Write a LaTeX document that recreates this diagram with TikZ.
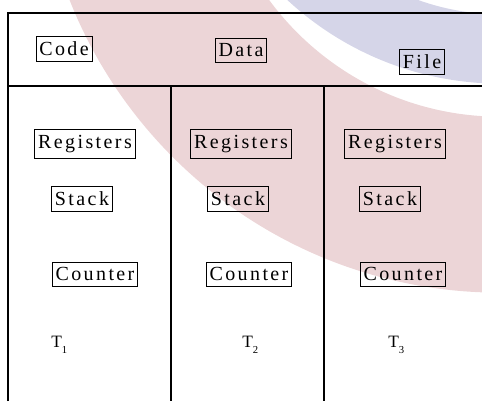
\documentclass[tikz,border=0pt]{standalone}
\usepackage{fontspec}
\setmainfont{Liberation Serif}
\newfontfamily\spacedfont[LetterSpace=12]{Liberation Serif}
\newcommand\tsub[1]{\raisebox{-5pt}{\fontsize{8}{9}\selectfont #1}}

\definecolor{markpink}{RGB}{236,213,215}
\definecolor{markblue}{RGB}{213,213,232}

\begin{document}
\begin{tikzpicture}[
  x=0.75pt, y=-0.75pt,
  frame/.style={line width=0.9pt},
  part/.style={draw, line width=0.6pt, inner xsep=2.5pt, inner ysep=4pt,
    font=\fontsize{15}{18}\spacedfont},
  tname/.style={anchor=base west, inner sep=0pt, font=\fontsize{13}{15}\selectfont}
]
\useasboundingbox (0,0) rectangle (482,401);

% --- Background mark ---
\begin{scope}
  \clip (0,0) rectangle (482,401);
  \fill[markpink, even odd rule] (500,-170) circle[radius=347pt] (500,-170) circle[radius=215pt];
  \fill[markblue, even odd rule] (501,-231) circle[radius=236pt] (501,-231) circle[radius=184pt];
\end{scope}

% --- Frame ---
\draw[frame] (8,401) -- (8,13) -- (482,13);
\draw[frame] (8,86) -- (482,86);
\draw[frame] (171,86) -- (171,401);
\draw[frame] (324,86) -- (324,401);

% --- Shared parts ---
\node[part] (code) at (64,49) {Code};
\node[part] (data) at (241,50) {Data};
\node[part] (file) at (422,62) {File};

% --- Thread 1 ---
\node[part] (reg1) at (85,144) {Registers};
\node[part] (stk1) at (82,199) {Stack};
\node[part] (cnt1) at (95,274) {Counter};
\node[tname] (t1) at (51,347) {T\tsub{1}};

% --- Thread 2 ---
\node[part] (reg2) at (241,144) {Registers};
\node[part] (stk2) at (238,199) {Stack};
\node[part] (cnt2) at (249,274) {Counter};
\node[tname] (t2) at (242,347) {T\tsub{2}};

% --- Thread 3 ---
\node[part] (reg3) at (395,144) {Registers};
\node[part] (stk3) at (390,199) {Stack};
\node[part] (cnt3) at (403,274) {Counter};
\node[tname] (t3) at (388,347) {T\tsub{3}};

\end{tikzpicture}
\end{document}
